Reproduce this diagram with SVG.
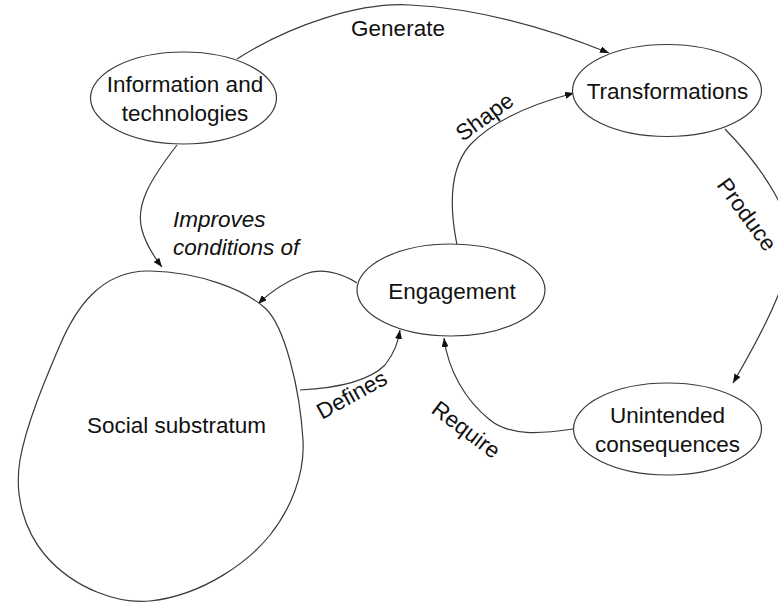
<svg xmlns="http://www.w3.org/2000/svg" width="778" height="603" viewBox="0 0 778 603">
<style>
.node{fill:#fff;stroke:#3a3a3a;stroke-width:1.2}
.edge{fill:none;stroke:#3a3a3a;stroke-width:1.2;marker-end:url(#arr)}
text{font-family:"Liberation Sans",Arial,sans-serif;font-size:22.5px;fill:#111}
.c{text-anchor:middle}
.it{font-style:italic}
</style>
<defs>
<marker id="arr" markerUnits="userSpaceOnUse" markerWidth="9" markerHeight="7" refX="9" refY="3.5" orient="auto">
<path d="M0,0 L9,3.5 L0,7 z" fill="#111"/>
</marker>
</defs>
<rect width="778" height="603" fill="#fff"/>
<g id="connectors">
<path id="e-generate" class="edge" d="M237,59 C290,25 360,2 410,5 C470,8 540,25 609,53"/>
<path id="e-improves" class="edge" d="M177,145 C150,180 135,205 142,230 C146,245 155,258 162,267"/>
<path id="e-engage-social" class="edge" d="M357,283 C340,272 320,268 305,274 C285,282 270,292 258,304"/>
<path id="e-shape" class="edge" d="M457,245 C450,210 448,170 470,145 C495,118 540,102 574,93"/>
<path id="e-produce" class="edge" d="M725,129 C760,165 800,220 790,260 C780,300 755,345 733,383"/>
<path id="e-require" class="edge" d="M573,429 C540,434 510,436 490,420 C465,400 448,370 444,338"/>
<path id="e-defines" class="edge" d="M300,390 C340,388 370,380 385,365 C395,352 398,342 400,330"/>
<text x="398" y="36" class="c">Generate</text>
<text x="173" y="227" class="it">Improves</text>
<text x="173" y="255" class="it">conditions of</text>
<text class="c" transform="translate(489,123) rotate(-36)">Shape</text>
<text transform="translate(716,185) rotate(54)">Produce</text>
<text transform="translate(430,412) rotate(37)">Require</text>
<text transform="translate(322,420) rotate(-29)">Defines</text>
</g>
<g id="info">
<ellipse class="node" cx="183.5" cy="98" rx="93" ry="46"/>
<text x="185" y="92" class="c">Information and</text>
<text x="185" y="121" class="c">technologies</text>
</g>
<g id="transformations">
<ellipse class="node" cx="667" cy="90.5" rx="94.5" ry="46"/>
<text x="667.5" y="99" class="c">Transformations</text>
</g>
<g id="engagement">
<ellipse class="node" cx="451" cy="290" rx="94" ry="46"/>
<text x="452" y="299" class="c">Engagement</text>
</g>
<g id="unintended">
<ellipse class="node" cx="667.5" cy="429" rx="94" ry="46"/>
<text x="667.5" y="423" class="c">Unintended</text>
<text x="667.5" y="452" class="c">consequences</text>
</g>
<g id="social">
<path class="node" d="M150,271 C200,272 245,290 265,308 C285,326 300,390 303,440 C305,475 290,510 270,535 C250,560 205,595 150,601 C120,604 75,590 45,555 C24,530 14,495 20,460 C26,425 45,380 60,345 C75,310 100,270 150,271 Z"/>
<text x="176.5" y="433" class="c">Social substratum</text>
</g>
</svg>
